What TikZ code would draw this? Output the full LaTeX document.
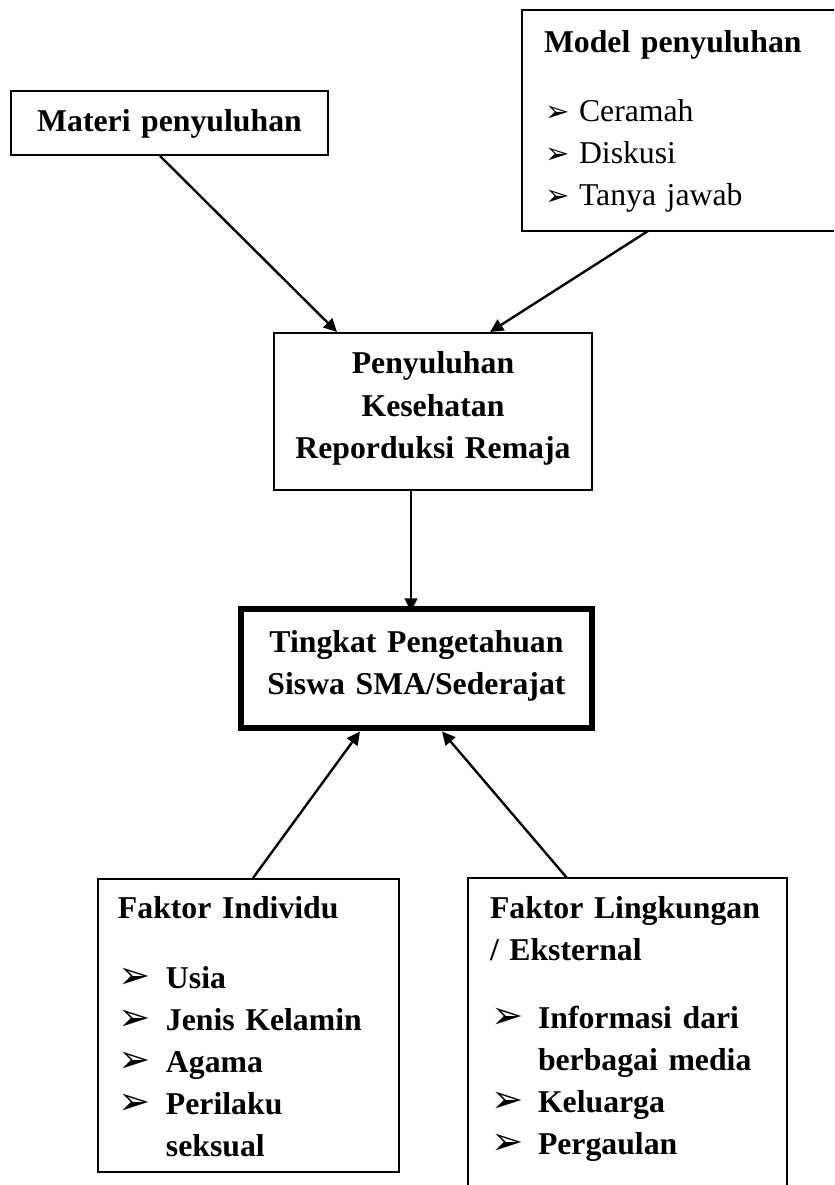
\documentclass[tikz,border=0pt]{standalone}
\usepackage{fontspec}
\setmainfont{Liberation Serif}
\newfontfamily\dejavu{DejaVu Sans}
\usetikzlibrary{arrows.meta}
\newdimen\pxs
\pxs=0.378pt
\newcommand{\butir}[2]{\hspace*{1\pxs}\makebox[#2][l]{\dejavu\fontsize{#1}{10}\selectfont ➢}}
\begin{document}
\begin{tikzpicture}[x=0.378pt, y=-0.378pt,
  kotak/.style={draw, line width=0.75pt, inner ysep=0pt, inner xsep=0pt, font=\fontsize{12}{15.9}\selectfont\bfseries},
  garis/.style={line width=0.75pt},
  panah/.style={line width=0.9pt, -{Triangle[length=5pt, width=4.8pt]}}]
\useasboundingbox (0,0) rectangle (834,1185);
\clip (0,0) rectangle (834,1185);
\node[kotak, align=center, text width=317\pxs, text height=41\pxs, text depth=23\pxs, anchor=base] (mat) at (169.5,132) {Materi penyuluhan};
\node[kotak, draw=none, align=left, inner xsep=21\pxs, text width=300\pxs, text height=42\pxs, text depth=177\pxs, anchor=base west] (mod) at (522,53) {Model penyuluhan\\[26\pxs] \mdseries\butir{11}{34\pxs}Ceramah\\ \butir{11}{34\pxs}Diskusi\\ \butir{11}{34\pxs}Tanya jawab};
\draw[garis] (mod.north east) -- (mod.north west) -- (mod.south west) -- (mod.south east);
\node[kotak, align=center, text width=318\pxs, text height=41\pxs, text depth=116\pxs, anchor=base] (pkr) at (433,374) {Penyuluhan\\ Kesehatan\\ Reporduksi Remaja};
\node[kotak, line width=2.6pt, align=center, text width=351\pxs, text height=43\pxs, text depth=76\pxs, anchor=base] (tps) at (416.5,652) {Tingkat Pengetahuan\\ Siswa SMA/Sederajat};
\node[kotak, align=left, inner xsep=20\pxs, text width=261\pxs, text height=39\pxs, text depth=254\pxs, anchor=base west] (fin) at (97,918) {Faktor Individu\\[28\pxs] \butir{14.5}{47\pxs}Usia\\ \butir{14.5}{47\pxs}Jenis Kelamin\\ \butir{14.5}{47\pxs}Agama\\ \butir{14.5}{47\pxs}Perilaku\\ \hspace*{48\pxs}seksual};
\node[kotak, draw=none, align=left, inner xsep=21\pxs, text width=275\pxs, text height=39\pxs, text depth=282\pxs, anchor=base west] (flk) at (468,918) {Faktor Lingkungan\\ / Eksternal\\[26\pxs] \butir{14.5}{47\pxs}Informasi dari\\ \hspace*{48\pxs}berbagai media\\ \butir{14.5}{47\pxs}Keluarga\\ \butir{14.5}{47\pxs}Pergaulan};
\draw[garis] (flk.south west) -- (flk.north west) -- (flk.north east) -- (flk.south east);
\draw[panah] ([xshift=-9.5\pxs]mat.south) -- ([xshift=-96\pxs]pkr.north);
\draw[panah] ([xshift=126\pxs]mod.south west) -- ([xshift=57\pxs]pkr.north);
\draw[panah] ([xshift=-22\pxs]pkr.south) -- ([xshift=-5.5\pxs, yshift=-6\pxs]tps.north);
\draw[panah] ([xshift=156\pxs]fin.north west) -- ([xshift=-56.5\pxs]tps.south);
\draw[panah] ([xshift=99\pxs]flk.north west) -- ([xshift=25.5\pxs]tps.south);
\end{tikzpicture}
\end{document}
